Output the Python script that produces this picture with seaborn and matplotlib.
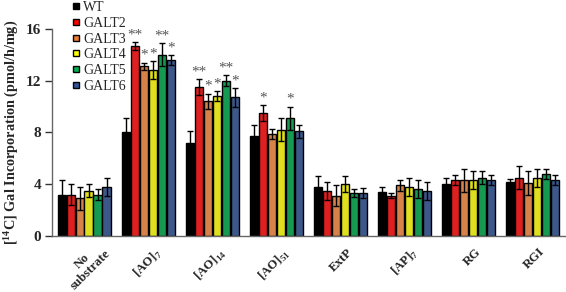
import numpy as np
import pandas as pd
import matplotlib
matplotlib.use("Agg")
import matplotlib.pyplot as plt
import matplotlib.transforms as mtransforms
import seaborn as sns
from matplotlib.lines import Line2D

substrates = ["No\nsubstrate", "[AO]$_{\\mathbf{7}}$", "[AO]$_{\\mathbf{14}}$", "[AO]$_{\\mathbf{51}}$",
              "ExtP", "[AP]$_{\\mathbf{7}}$", "RG", "RGI"]
lines = ["WT", "GALT2", "GALT3", "GALT4", "GALT5", "GALT6"]
colors = ["#000000", "#FF0000", "#ED7D31", "#FFFF00", "#00B050", "#2F5597"]

wt = [3.15, 8.0, 7.2, 7.7, 3.8, 3.4, 4.0, 4.2]
galt2 = [3.2, 14.7, 11.5, 9.5, 3.5, 3.1, 4.3, 4.5]
galt3 = [2.9, 13.1, 10.4, 7.9, 3.1, 3.9, 4.3, 4.1]
galt4 = [3.5, 12.8, 10.8, 8.2, 4.0, 3.8, 4.3, 4.5]
galt5 = [3.2, 14.0, 12.0, 9.1, 3.3, 3.6, 4.5, 4.8]
galt6 = [3.8, 13.6, 10.7, 8.1, 3.3, 3.5, 4.3, 4.3]

wt_err = [1.15, 1.1, 0.9, 0.9, 0.8, 0.4, 0.5, 0.2]
galt2_err = [0.8, 0.3, 0.6, 0.6, 0.7, 0.2, 0.4, 0.9]
galt3_err = [0.9, 0.3, 0.6, 0.4, 0.8, 0.4, 0.9, 0.9]
galt4_err = [0.5, 0.7, 0.4, 0.9, 0.6, 0.7, 0.7, 0.7]
galt5_err = [0.4, 0.9, 0.4, 0.9, 0.3, 0.7, 0.5, 0.4]
galt6_err = [0.7, 0.4, 0.7, 0.5, 0.4, 0.7, 0.4, 0.4]

wt_sig = [""] * 8
galt2_sig = ["", "**", "**", "*", "", "", "", ""]
galt3_sig = ["", "*", "*", "", "", "", "", ""]
galt4_sig = ["", "*", "*", "", "", "", "", ""]
galt5_sig = ["", "**", "**", "*", "", "", "", ""]
galt6_sig = ["", "*", "*", "", "", "", "", ""]

values = [wt, galt2, galt3, galt4, galt5, galt6]
errors = [wt_err, galt2_err, galt3_err, galt4_err, galt5_err, galt6_err]
sigs = [wt_sig, galt2_sig, galt3_sig, galt4_sig, galt5_sig, galt6_sig]

df = pd.DataFrame({
    "substrate": np.tile(substrates, len(lines)),
    "line": np.repeat(lines, len(substrates)),
    "value": np.concatenate(values),
})

sns.set_style("white")
plt.rcParams["font.family"] = ["Liberation Serif", "DejaVu Serif"]
plt.rcParams["mathtext.fontset"] = "custom"
plt.rcParams["mathtext.rm"] = "Liberation Serif"
plt.rcParams["mathtext.bf"] = "Liberation Serif:bold"

fig = plt.figure(figsize=(5.66, 2.92), dpi=100)
ax = fig.add_axes([0.092, 0.192, 0.906, 0.709])

sns.barplot(data=df, x="substrate", y="value", hue="line", order=substrates,
            hue_order=lines, palette=colors, errorbar=None, width=0.84, gap=0.08,
            edgecolor="black", linewidth=1.0, legend=False, ax=ax)

# error bars + asterisks on each bar
bars = [p for p in ax.patches if p.get_height() > 0]
for i, ln in enumerate(lines):
    for j, s in enumerate(substrates):
        p = bars[i * len(substrates) + j]
        xc = p.get_x() + p.get_width() / 2
        v = values[i][j]
        e = errors[i][j]
        ax.errorbar(xc, v, yerr=e, fmt="none", ecolor="black", elinewidth=1.0,
                    capsize=2.5, capthick=1.0, zorder=5)
        if sigs[i][j]:
            ax.text(xc, v + e + 0.05, sigs[i][j], ha="center", va="bottom",
                    fontsize=11, color="#555555", zorder=6)

ax.set_xlim(-0.5, len(substrates) - 0.5)
ax.set_ylim(0, 16)
ax.set_yticks([0, 4, 8, 12, 16])
ax.set_yticklabels(["0", "4", "8", "12", "16"], fontsize=11, fontweight="bold")

# category labels drawn as rotated texts, ticks sit between groups
ax.set_xticks(range(len(substrates)))
ax.set_xticklabels([])
ax.tick_params(axis="x", which="major", length=0)
for k, name in enumerate(substrates):
    dx, dy = (12, -3) if k == 0 else (6, -10)
    off = mtransforms.ScaledTranslation(dx / 100, dy / 100, fig.dpi_scale_trans)
    ax.text(k, 0, name, transform=ax.get_xaxis_transform() + off, rotation=45,
            ha="right", va="top", rotation_mode="anchor", fontsize=9.3,
            fontweight="bold", multialignment="center", linespacing=1.0)
ax.set_xticks(np.arange(-0.5, len(substrates)), minor=True)
ax.tick_params(axis="x", which="minor", length=5, width=1, color="#333333", direction="out")
ax.tick_params(axis="y", length=5, width=1, color="#333333", direction="out", left=True, pad=3)
ax.set_xlabel("")
ax.set_ylabel("[$^{\\mathbf{14}}$C] Gal Incorporation (pmol/h/mg)", fontsize=10.3,
              fontweight="bold", labelpad=4)

for side in ["top", "right"]:
    ax.spines[side].set_visible(False)
for side in ["left", "bottom"]:
    ax.spines[side].set_color("#666666")
    ax.spines[side].set_linewidth(1.0)

handles = [Line2D([0], [0], marker="s", linestyle="none", markerfacecolor=c,
                  markeredgecolor="black", markersize=5) for c in colors]
fig.legend(handles, lines, loc="upper left", bbox_to_anchor=(0.108, 1.03),
           frameon=False, fontsize=10, handletextpad=0.1, labelspacing=0.2,
           handlelength=0.8, borderpad=0.2)

fig.savefig("out.png", dpi=100)
